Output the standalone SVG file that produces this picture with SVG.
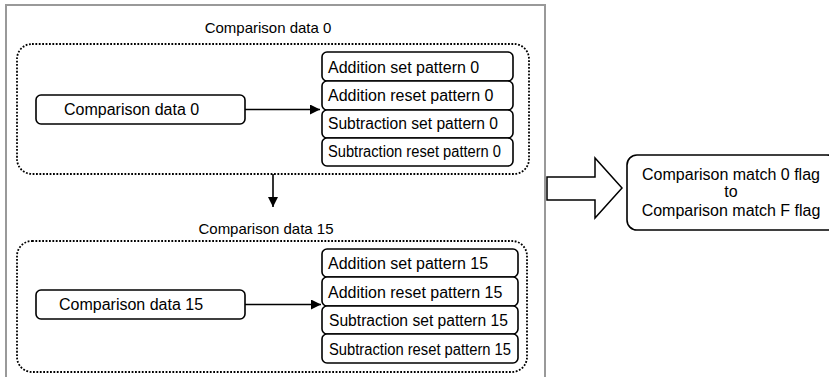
<svg xmlns="http://www.w3.org/2000/svg" width="829" height="377" viewBox="0 0 829 377">
<style>
text{font-family:"Liberation Sans",Arial,sans-serif;fill:#000}
.t16{font-size:16px}
.t15{font-size:15px}
.box{fill:#fff;stroke:#000;stroke-width:1.6}
.dot{fill:none;stroke:#000;stroke-width:1.8;stroke-dasharray:1.8 1.6}
.frame{fill:none;stroke:#999;stroke-width:2}
.conn{fill:none;stroke:#000;stroke-width:1.6}
</style>
<defs>
<marker id="ah" viewBox="0 0 10 10" refX="10" refY="5" markerWidth="10" markerHeight="10" markerUnits="userSpaceOnUse" orient="auto">
<path d="M0,0 L10,5 L0,10 Z" fill="#000"/>
</marker>
</defs>
<rect width="829" height="377" fill="#fff"/>
<rect class="frame" x="6" y="5" width="539" height="400"/>

<g id="group0">
<text class="t15" x="268" y="32.5" text-anchor="middle">Comparison data 0</text>
<rect class="dot" x="17" y="44" width="512" height="130" rx="15"/>
</g>
<g id="node-data0">
<rect class="box" x="36" y="95" width="209" height="29" rx="5"/>
<text class="t16" x="64" y="115">Comparison data 0</text>
</g>
<g id="patterns0">
<rect class="box" x="322" y="52" width="191" height="29" rx="5"/>
<text class="t16" x="328" y="73">Addition set pattern 0</text>
<rect class="box" x="322" y="81" width="191" height="29" rx="5"/>
<text class="t16" x="328" y="101">Addition reset pattern 0</text>
<rect class="box" x="322" y="110" width="191" height="28" rx="5"/>
<text class="t16" x="328" y="129" textLength="170" lengthAdjust="spacingAndGlyphs">Subtraction set pattern 0</text>
<rect class="box" x="322" y="138" width="191" height="28" rx="5"/>
<text class="t16" x="328" y="157" textLength="173" lengthAdjust="spacingAndGlyphs">Subtraction reset pattern 0</text>
</g>

<g id="group15">
<text class="t15" x="266" y="234" text-anchor="middle">Comparison data 15</text>
<rect class="dot" x="17" y="241" width="510" height="131" rx="15"/>
</g>
<g id="node-data15">
<rect class="box" x="36" y="290" width="209" height="29" rx="5"/>
<text class="t16" x="59" y="310">Comparison data 15</text>
</g>
<g id="patterns15">
<rect class="box" x="322" y="249" width="196" height="28" rx="5"/>
<text class="t16" x="328" y="269">Addition set pattern 15</text>
<rect class="box" x="322" y="277" width="196" height="29" rx="5"/>
<text class="t16" x="328" y="298">Addition reset pattern 15</text>
<rect class="box" x="322" y="306" width="196" height="28" rx="5"/>
<text class="t16" x="329" y="326" textLength="179" lengthAdjust="spacingAndGlyphs">Subtraction set pattern 15</text>
<rect class="box" x="322" y="334" width="196" height="29" rx="5"/>
<text class="t16" x="329" y="355" textLength="182" lengthAdjust="spacingAndGlyphs">Subtraction reset pattern 15</text>
</g>

<g id="result">
<rect class="box" x="627" y="155" width="210" height="75" rx="10"/>
<text class="t16" x="731" y="180" text-anchor="middle">Comparison match 0 flag</text>
<text class="t16" x="731" y="197" text-anchor="middle">to</text>
<text class="t16" x="731" y="216" text-anchor="middle">Comparison match F flag</text>
</g>

<g id="connectors">
<line class="conn" x1="245" y1="109.5" x2="320" y2="109.5" marker-end="url(#ah)"/>
<line class="conn" x1="245" y1="304.5" x2="321" y2="304.5" marker-end="url(#ah)"/>
<line class="conn" x1="273" y1="174" x2="273" y2="207" marker-end="url(#ah)"/>
<polygon points="547,177 595,177 595,158 622,188 595,218 595,200 547,200" fill="#fff" stroke="#000" stroke-width="1.5"/>
</g>
</svg>
